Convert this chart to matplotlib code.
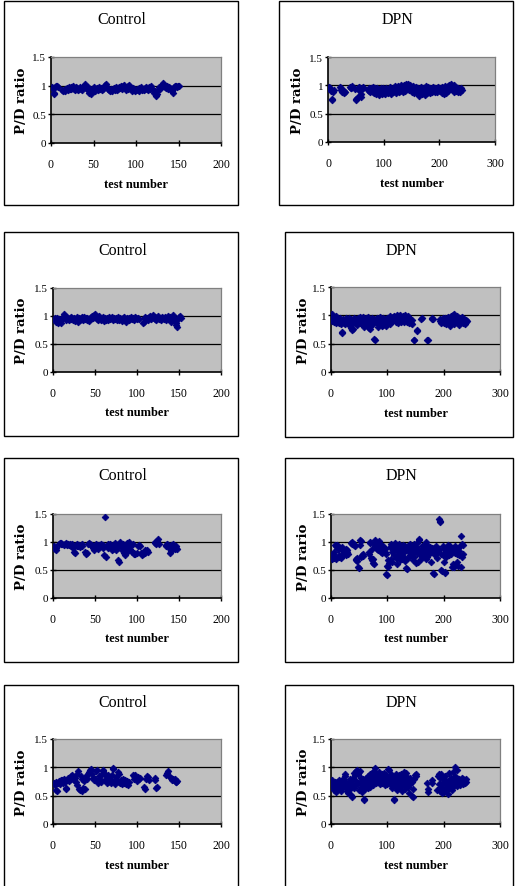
import numpy as np
import matplotlib
matplotlib.use("Agg")
import matplotlib.pyplot as plt
from matplotlib.patches import Rectangle

# P/D ratio for each test number, starting at test 1 (None = no test)
ctrl_1 = [
    0.97, 0.95, 0.85, 0.88, 0.97, 0.99, 1.00, 0.98, None, None,
    None, None, 0.92, 0.90, 0.93, 0.91, 0.95, 0.94, 0.96, 0.93,
    0.97, 0.95, 0.98, 0.94, 0.96, 0.99, 0.95, 0.93, 0.97, 0.94,
    0.96, 0.92, 0.95, 0.98, 0.94, 0.96, 0.93, 0.97, 1.00, 1.03,
    0.98, 0.95, 0.97, 0.92, 0.88, 0.94, 0.86, 0.90, 0.95, 0.93,
    0.97, 0.91, 0.94, 0.96, 0.92, 0.95, 0.98, 0.94, 0.96, 0.93,
    0.95, 0.97, 0.99, 1.01, 1.03, 0.98, 0.95, 0.92, 0.90, 0.93,
    0.95, 0.91, 0.94, 0.96, 0.93, 0.97, 0.94, 0.92, 0.95, 0.98,
    0.96, 1.00, 0.97, 0.94, 0.99, 1.01, 0.96, 0.93, 0.97, 0.95,
    0.99, 1.02, 0.97, 0.94, 0.91, 0.96, 0.93, 0.95, 0.90, 0.92,
    0.95, 0.93, 0.96, 0.91, 0.94, 0.97, 0.93, 0.95, 0.92, 0.96,
    0.94, 0.98, 0.95, 0.93, 0.97, 0.94, 0.96, 0.99, 0.95, 0.92,
    0.88, 0.90, 0.84, 0.82, 0.86, 0.93, 0.97, 0.95, 0.98, 1.00,
    1.02, 1.04, 1.01, 0.98, 0.96, 0.99, 0.97, 0.95, 0.98, 0.96,
    0.93, 0.90, 0.88, 0.94, 0.97, 0.99, 1.00, 0.97, 0.99, 1.00,
]

dpn_1 = [
    0.95, 0.97, 0.93, 0.96, 0.92, 0.90, 0.76, 0.74, 0.88, 0.91,
    None, None, None, None, None, None, None, None, None, None,
    None, 0.97, 0.95, 0.92, 0.90, 0.88, None, 0.87, 0.90, 0.89,
    None, None, None, None, None, None, None, None, None, 0.97,
    0.96, 0.95, 0.98, None, None, None, None, None, 0.94, 0.76,
    0.74, 0.78, 0.95, 0.93, 0.97, 0.92, 0.96, 0.83, 0.85, 0.80,
    0.94, 0.97, 0.95, None, None, None, None, None, None, None,
    None, 0.92, 0.95, 0.90, 0.93, 0.88, 0.96, 0.91, 0.94, 0.89,
    0.97, 0.86, 0.92, 0.95, 0.90, 0.84, 0.93, 0.96, 0.88, 0.91,
    0.83, 0.94, 0.90, 0.87, 0.95, 0.92, 0.85, 0.89, 0.96, 0.91,
    0.87, 0.93, 0.84, 0.90, 0.95, 0.88, 0.92, 0.86, 0.94, 0.90,
    0.97, 0.89, 0.93, 0.85, 0.91, 0.96, 0.88, 0.94, 0.90, 0.98,
    0.92, 0.87, 0.95, 0.91, 0.99, 0.93, 0.88, 0.96, 0.90, 0.94,
    1.00, 0.92, 0.97, 0.89, 0.95, 1.01, 0.93, 0.98, 0.90, 0.96,
    1.02, 0.94, 0.99, 1.03, 0.95, 0.91, 0.97, 1.00, 0.93, 0.96,
    0.89, 0.94, 0.98, 0.91, 0.86, 0.95, 0.92, 0.97, 0.88, 0.93,
    0.84, 0.96, 0.90, 0.82, 0.94, 0.89, 0.97, 0.92, 0.85, 0.95,
    0.91, 0.88, 0.96, 0.83, 0.93, 0.98, 0.90, 0.86, 0.94, 0.97,
    0.89, 0.93, 0.87, 0.96, 0.91, 0.95, 0.88, 0.92, 0.97, 0.90,
    0.94, 0.89, 0.96, 0.92, 0.95, 0.88, 0.93, 0.97, 0.91, 0.94,
    0.90, 0.95, 0.92, 0.86, 0.97, 0.93, 0.89, 0.84, 0.94, 0.98,
    0.91, 0.87, 0.95, 0.92, 0.99, 0.90, 0.96, 1.01, 0.93, 0.97,
    1.02, 0.94, 0.99, 0.91, 0.96, 1.00, 0.88, 0.93, 0.97, 0.90,
    0.95, 0.92, 0.88, 0.96, 0.91, 0.94, 0.89, 0.93, 0.95, 0.92,
]

ctrl_2 = [
    0.95, 0.97, 0.93, 0.90, 0.96, 0.88, 0.94, 0.91, 0.87, 0.92,
    0.97, 0.99, 1.03, 1.00, 0.96, 0.93, 0.98, 0.95, 0.92, 0.97,
    0.94, 0.99, 0.96, 0.93, 0.97, 0.91, 0.95, 0.98, 0.94, 0.90,
    0.96, 0.93, 0.97, 0.99, 0.95, 0.92, 0.98, 0.94, 0.96, 0.93,
    0.97, 0.95, 0.91, 0.94, 0.98, 0.96, 1.00, 0.97, 1.02, 1.04,
    0.99, 0.95, 0.97, 0.93, 1.00, 0.96, 0.92, 0.95, 0.98, 0.94,
    0.91, 0.96, 0.93, 0.97, 0.95, 0.92, 0.98, 0.94, 0.96, 0.99,
    0.95, 0.93, 0.97, 0.94, 0.96, 0.92, 0.98, 0.95, 0.93, 0.97,
    0.94, 0.91, 0.96, 0.98, 0.93, 0.95, 0.90, 0.97, 0.94, 0.96,
    0.92, 0.95, 0.98, 0.94, 0.97, 0.93, 0.95, 0.99, 0.96, 0.94,
    0.97, 0.95, None, None, None, None, 0.88, 0.90, 0.96, 0.99,
    0.95, 0.97, 0.93, 0.98, 1.00, 0.96, 0.94, 0.99, 1.01, 0.97,
    0.95, 0.98, 0.93, 0.96, 1.00, 0.94, 0.97, 0.95, 0.92, 0.98,
    0.96, 0.94, 0.99, 0.97, 0.93, 0.96, 1.00, 0.95, 0.98, 0.94,
    0.90, 0.97, 1.01, 0.96, 0.93, 0.88, 0.84, 0.81, 0.95, 0.98,
    1.00, 0.97,
]

dpn_2 = [
    1.02, 0.90, 0.97, 0.93, 0.88, 0.95, 0.91, 0.98, 0.86, 0.93,
    0.96, 0.89, 0.94, 0.87, 0.92, 0.95, 0.88, 0.84, 0.70, 0.69,
    0.91, 0.94, 0.87, 0.92, 0.85, 0.95, 0.90, 0.88, 0.93, 0.86,
    0.91, 0.95, 0.82, 0.89, 0.93, 0.78, 0.86, 0.74, 0.76, 0.90,
    0.96, 0.92, 0.87, 0.94, 0.89, 0.83, 0.91, 0.95, 0.88, 0.93,
    0.86, 0.97, 0.90, 0.94, 0.85, 0.92, 0.97, 0.89, 0.80, 0.84,
    0.93, 0.88, 0.95, 0.91, 0.86, 0.97, 0.90, 0.78, 0.76, 0.82,
    0.92, 0.95, 0.87, 0.90, 0.84, 0.93, 0.58, 0.57, 0.88, 0.94,
    0.91, 0.96, 0.86, 0.80, 0.93, 0.89, 0.97, 0.85, 0.92, 0.82,
    0.88, 0.95, 0.83, 0.90, 0.86, 0.93, 0.81, 0.89, 0.96, 0.84,
    0.91, 0.87, 0.94, 0.85, 0.98, 0.92, 0.88, 0.95, 0.90, 0.97,
    0.93, 0.99, 0.91, 0.96, 0.89, 0.94, 1.00, 0.92, 0.87, 0.95,
    0.98, 0.90, 1.01, 0.94, 0.88, 0.96, 0.92, 0.99, 0.89, 0.93,
    1.00, 0.95, 0.91, 0.97, 0.88, 0.94, 0.99, 0.90, 0.86, 0.93,
    0.90, 0.87, 0.92, 0.85, None, None, 0.57, 0.56, None, None,
    None, 0.75, 0.73, None, None, None, None, None, None, 0.93,
    0.95, None, None, None, None, None, None, None, None, None,
    0.57, 0.56, None, None, None, None, None, None, 0.94, 0.95,
    0.93, None, None, None, None, None, None, None, None, None,
    None, None, 0.90, 0.94, 0.87, 0.92, 0.88, 0.95, 0.90, 0.86,
    0.93, 0.89, 0.96, 0.91, 0.85, 0.93, 0.88, 0.97, 0.90, 0.94,
    0.82, 0.92, 0.98, 0.87, 0.95, 1.00, 0.91, 0.85, 1.02, 0.93,
    0.97, 0.89, 0.94, 0.99, 0.86, 0.92, 0.96, 0.83, 0.90, 0.95,
    0.88, 0.93, 0.97, 0.86, 0.91, 0.94, 0.89, 0.85, 0.92, 0.88,
    0.90,
]

ctrl_3 = [
    0.92, 0.87, 0.85, 0.90, None, None, 0.97, 0.99, 0.96, 0.98,
    0.97, None, 0.95, 0.97, 0.96, 0.98, 0.94, 0.97, 0.95, 0.96,
    0.93, 0.95, 0.97, 0.90, 0.83, 0.80, 0.94, 0.92, 0.96, 0.93,
    0.95, 0.91, 0.94, 0.96, 0.93, None, None, 0.82, 0.79, 0.81,
    None, 0.97, 0.99, 0.96, 0.94, 0.92, 0.95, 0.89, 0.86, 0.93,
    0.96, 0.91, 0.94, 0.88, 0.95, 0.92, 0.97, 0.93, 0.90, 0.95,
    0.76, 1.45, 0.74, 0.92, 0.96, 0.89, 0.94, 0.97, 0.91, 0.86,
    0.95, 0.88, 0.92, 0.98, 0.85, 0.90, 0.67, 0.64, 0.95, 1.00,
    0.92, 0.86, 0.97, 0.80, 0.93, 0.76, 0.89, 0.99, 0.84, 0.95,
    1.00, 0.88, 0.94, 0.82, 0.97, 0.79, 0.81, 0.78, None, 0.80,
    0.93, 0.95, 0.92, None, 0.80, 0.76, 0.78, 0.82, 0.85, 0.80,
    0.84, 0.86, 0.83, None, None, None, None, None, None, None,
    0.98, 1.00, 0.96, 1.02, 1.05, 0.97, None, None, None, None,
    None, None, None, 0.95, 0.92, 0.96, 0.94, 0.90, 0.80, 0.84,
    0.95, 0.93, 0.96, 0.91, 0.88, 0.93, 0.90, 0.87,
]

dpn_3 = [
    0.72, 0.70, 0.79, 0.74, 0.82, 0.71, 0.95, 0.93, 0.69, 0.91,
    0.94, 0.88, 0.92, 0.76, 0.73, 0.90, 0.72, 0.87, 0.91, 0.75,
    0.86, 0.78, None, 0.84, 0.80, 0.88, 0.76, 0.82, 0.86, 0.79,
    None, None, None, None, None, 0.98, 1.00, 0.97, None, 0.95,
    0.96, 0.93, None, 0.70, 0.68, 0.66, 0.72, 0.55, 0.53, None,
    0.94, 1.03, 1.02, 0.73, 0.77, 0.78, 0.75, None, None, None,
    None, None, None, None, None, None, 0.82, 0.79, 0.98, 1.00,
    0.72, 0.67, 0.88, 0.70, 0.63, 0.60, 0.97, 1.04, 0.99, 0.92,
    0.87, 0.95, 0.85, 0.91, 1.02, 0.89, 0.96, 0.83, 0.92, 0.80,
    0.88, 0.93, 0.85, 0.90, 0.82, 0.87, 0.78, 0.43, 0.41, 0.58,
    0.68, 0.55, 0.63, 0.66, 0.91, 0.70, 0.96, 0.82, 0.64, 0.89,
    0.95, 0.77, 0.87, 0.99, 0.72, 0.93, 0.84, 0.60, 0.90, 0.78,
    0.97, 0.68, 0.73, 0.86, 0.92, 0.69, 0.95, 0.81, 0.74, 0.88,
    0.93, 0.66, 0.85, 0.53, 0.51, 0.90, 0.71, 0.83, 0.94, 0.76,
    0.97, 0.87, 0.79, 0.92, 0.68, 0.84, 0.96, 0.73, 0.89, 0.62,
    0.91, 0.80, 0.98, 0.65, 0.86, 1.05, 1.03, 0.77, 0.83, 0.70,
    0.88, 0.93, 0.75, 0.87, 0.95, 0.81, 0.90, 0.70, 1.00, 0.86,
    0.73, 0.92, 0.84, 0.78, 0.91, 0.88, 0.64, 0.82, 0.86, 0.90,
    0.44, 0.42, 0.90, 0.76, 0.86, 0.93, 0.81, 0.88, 0.72, 0.85,
    0.88, 1.41, 1.38, 1.35, 0.79, 0.50, 0.48, 0.93, 0.77, 0.87,
    0.64, 0.46, 0.44, 0.84, 0.74, 0.89, 0.94, 0.80, 0.86, 0.76,
    0.83, 0.92, 0.78, 0.88, 0.55, 0.60, 0.90, 0.85, 0.56, 0.93,
    0.81, 0.87, 0.64, 0.79, 0.58, 0.90, 0.84, 0.76, 0.92, 0.55,
    1.11, 0.97, 0.74, 0.95, 0.79,
]

ctrl_4 = [
    0.72, 0.68, 0.75, 0.60, 0.58, 0.73, 0.76, 0.70, 0.78, 0.74,
    0.77, 0.72, 0.80, 0.75, 0.63, 0.61, 0.78, 0.82, 0.76, 0.80,
    0.84, 0.79, 0.86, 0.83, 0.77, 0.81, 0.75, 0.68, 0.88, 0.93,
    0.62, 0.60, 0.84, 0.58, 0.80, 0.63, 0.76, 0.61, 0.82, 0.86,
    0.79, 0.89, 0.92, 0.95, 0.97, 0.88, None, 0.82, 0.78, 0.80,
    0.93, 0.95, 0.76, 0.72, 0.85, 0.80, 0.74, 0.88, 0.93, 0.96,
    0.90, 0.77, 0.84, 0.72, 0.87, 0.75, 0.81, 0.79, 0.73, 0.86,
    0.99, 0.97, 0.76, 0.70, 0.83, 0.78, 0.92, 0.74, 0.88, 0.72,
    0.77, 0.70, 0.80, 0.75, 0.73, 0.78, 0.71, 0.76, 0.69, 0.74,
    None, None, None, None, 0.87, 0.84, 0.80, 0.86, None, 0.76,
    0.83, 0.79, 0.81, None, None, None, None, 0.66, 0.62, None,
    0.80, 0.84, 0.83, 0.78, None, None, None, None, None, None,
    0.82, 0.78, 0.64, 0.66, None, None, None, None, None, None,
    None, None, None, None, 0.86, 0.90, 0.93, 0.85, None, None,
    0.82, 0.78, 0.80, 0.77, 0.79, 0.75, 0.74, 0.76,
]

dpn_4 = [
    0.70, 0.77, 0.65, 0.72, 0.60, 0.68, 0.75, 0.57, 0.71, 0.66,
    0.74, 0.62, 0.69, 0.78, 0.64, 0.72, 0.59, 0.76, 0.68, 0.73,
    0.66, 0.80, 0.71, 0.88, 0.84, 0.63, 0.75, 0.58, 0.70, 0.67,
    0.55, 0.73, 0.79, 0.61, 0.76, 0.52, 0.48, 0.70, 0.82, 0.64,
    0.90, 0.78, 0.86, 0.93, 0.68, 0.95, 0.72, 0.88, 0.92, 0.60,
    0.94, 0.75, 0.81, 0.66, 0.57, 0.79, 0.70, 0.45, 0.43, 0.62,
    0.74, 0.82, 0.68, 0.77, 0.85, 0.63, 0.79, 0.72, 0.88, 0.66,
    0.81, 0.75, 0.90, 0.69, 0.84, 0.78, 0.93, 0.98, 0.72, 0.86,
    0.80, 0.89, 0.74, 0.83, 0.77, 0.91, 0.70, 0.85, 0.79, 0.88,
    0.73, 0.82, 0.76, 0.90, 0.68, 0.84, 0.79, 0.87, 0.71, 0.81,
    0.75, 0.97, 0.95, 0.83, 0.70, 0.88, 0.77, 0.64, 0.85, 0.72,
    0.44, 0.42, 0.80, 0.67, 0.89, 0.74, 0.82, 0.60, 0.78, 0.86,
    0.70, 0.83, 0.65, 0.76, 0.88, 0.58, 0.81, 0.73, 0.91, 0.68,
    0.79, 0.62, 0.85, 0.90, 0.72, 0.66, None, 0.78, 0.55, 0.82,
    0.70, None, 0.74, 0.50, 0.48, 0.62, None, 0.80, 0.86, 0.88,
    0.84, None, None, None, None, None, None, None, None, None,
    None, None, None, None, None, None, None, None, None, None,
    0.72, 0.57, 0.62, None, None, None, None, None, 0.78, 0.73,
    None, None, None, None, None, None, None, None, 0.60, 0.85,
    0.70, 0.88, 0.58, 0.82, 0.65, 0.89, 0.55, 0.75, 0.62, 0.80,
    0.57, 0.70, 0.84, 0.61, 0.76, 0.66, 0.53, 0.72, 0.90, 0.63,
    0.78, 0.68, 0.82, 0.60, 0.74, 0.92, 0.65, 0.79, 0.70, 1.00,
    0.85, 0.73, 0.96, 0.67, 0.77, 0.71, 0.80, 0.75, 0.69, 0.78,
    0.73, 0.82, 0.76, 0.70, 0.79, 0.74, 0.77, 0.72, 0.80, 0.75,
]

series = [ctrl_1, dpn_1, ctrl_2, dpn_2, ctrl_3, dpn_3, ctrl_4, dpn_4]
titles = ["Control", "DPN"] * 4
ylabels = ["P/D ratio", "P/D ratio", "P/D ratio", "P/D ratio",
           "P/D ratio", "P/D rario", "P/D ratio", "P/D rario"]
ctrl_xticks = [0, 50, 100, 150, 200]
dpn_xticks = [0, 100, 200, 300]
yticks = [0, 0.5, 1, 1.5]
ytick_labels = ["0", "0.5", "1", "1.5"]

W, H = 515, 887
# pixel layout (left, top, right, bottom): outer frame and plot area
frames = [(4, 2, 238, 206), (279, 2, 513, 206),
          (4, 233, 238, 437), (285, 233, 513, 438),
          (4, 459, 238, 663), (285, 459, 513, 663),
          (4, 686, 238, 900), (285, 686, 513, 900)]
plots = [(51, 58, 221, 144), (328, 58, 495, 143),
         (53, 289, 221, 373), (331, 288, 500, 373),
         (53, 515, 221, 599), (331, 515, 500, 599),
         (53, 740, 221, 825), (331, 740, 500, 825)]
title_y = [20, 20, 251, 251, 476, 476, 703, 703]

serif = ["Liberation Serif", "DejaVu Serif"]
navy = "#000080"

fig = plt.figure(figsize=(W / 100, H / 100), dpi=100)

for i, vals in enumerate(series):
    fl, ft, fr, fb = frames[i]
    fig.patches.append(Rectangle((fl / W, 1 - fb / H), (fr - fl) / W, (fb - ft) / H,
                                 transform=fig.transFigure, fill=False,
                                 ec="black", lw=1.0))

    l, t, r, b = plots[i]
    ax = fig.add_axes([l / W, 1 - b / H, (r - l) / W, (b - t) / H])
    ax.set_facecolor("#C0C0C0")

    y = np.array(vals, dtype=float)
    x = np.arange(1, len(y) + 1)
    for g in yticks[1:-1]:
        ax.axhline(g, color="black", lw=0.9, zorder=1)
    ax.plot(x, y, "D", ms=3.4, color=navy, mec=navy, mew=0.6, ls="none", zorder=3)

    xticks = ctrl_xticks if i % 2 == 0 else dpn_xticks
    ax.set_xlim(xticks[0], xticks[-1])
    ax.set_ylim(0, 1.5)
    ax.set_xticks(xticks)
    ax.set_xticklabels([str(v) for v in xticks], family=serif, fontsize=8.5)
    ax.set_yticks(yticks)
    ax.set_yticklabels(ytick_labels, family=serif, fontsize=8)
    ax.tick_params(axis="x", direction="inout", length=5, width=1, pad=8)
    ax.tick_params(axis="y", direction="inout", length=4, width=1, pad=1.5)

    for s in ["left", "bottom"]:
        ax.spines[s].set_color("black")
        ax.spines[s].set_linewidth(1.2)
    for s in ["top", "right"]:
        ax.spines[s].set_color("#808080")
        ax.spines[s].set_linewidth(0.9)

    ax.set_xlabel("test number", family=serif, fontweight="bold", fontsize=9, va="center")
    ax.xaxis.set_label_coords(0.5, -(185 - 144) / 86)
    ax.set_ylabel(ylabels[i], family=["DejaVu Serif"], fontweight="bold",
                  fontsize=9.5, va="center")
    ax.yaxis.set_label_coords(-(l - fl - 18) / (r - l), 0.5)

    fig.text(((l + r) / 2 - 14) / W, 1 - title_y[i] / H, titles[i],
             family=serif, fontsize=11.5, ha="center", va="center")

fig.savefig("out.png", dpi=100)
